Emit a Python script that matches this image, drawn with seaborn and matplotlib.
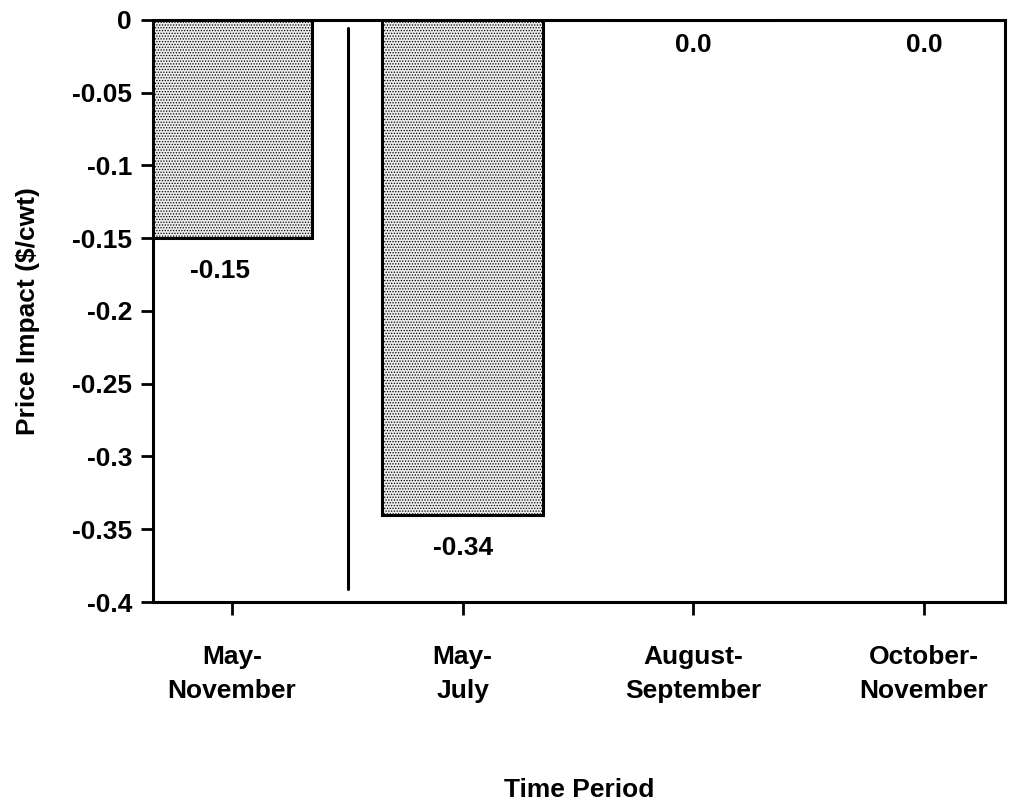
import matplotlib
matplotlib.use("Agg")
import matplotlib.pyplot as plt
import seaborn as sns
import pandas as pd

periods = ["May-\nNovember", "May-\nJuly", "August-\nSeptember", "October-\nNovember"]
impact = [-0.15, -0.34, 0.0, 0.0]
value_labels = ["-0.15", "-0.34", "0.0", "0.0"]
y_ticks = [0, -0.05, -0.1, -0.15, -0.2, -0.25, -0.3, -0.35, -0.4]
y_ticklabels = ["0", "-0.05", "-0.1", "-0.15", "-0.2", "-0.25", "-0.3", "-0.35", "-0.4"]

sns.set_style("ticks")
plt.rcParams["font.family"] = ["Liberation Sans", "DejaVu Sans"]
plt.rcParams["font.weight"] = "bold"
plt.rcParams["hatch.color"] = "#8a8a8a"
plt.rcParams["hatch.linewidth"] = 0.6
for k in ["text.color", "axes.labelcolor", "xtick.color", "ytick.color", "axes.edgecolor"]:
    plt.rcParams[k] = "black"

FS = 19

df = pd.DataFrame({"period": periods, "impact": impact})

fig = plt.figure(figsize=(10.19, 8), dpi=100)
ax = fig.add_axes([0.1501, 0.2475, 0.836, 0.7275])

sns.barplot(data=df, x="period", y="impact", color="#ececec", width=0.695,
            edgecolor="black", linewidth=2.2, ax=ax)
for p in ax.patches:
    p.set_hatch("......")

ax.set_ylim(-0.4, 0)
ax.set_xlim(-0.342, 3.35)
ax.set_yticks(y_ticks)
ax.set_yticklabels(y_ticklabels, fontsize=FS, fontweight="bold")
ax.set_xticks(range(len(periods)))
ax.set_xticklabels(periods, fontsize=FS, fontweight="bold", linespacing=1.5)
ax.tick_params(axis="both", width=2, length=9, direction="out")
ax.tick_params(axis="x", pad=22)
ax.tick_params(axis="y", pad=6)
for s in ax.spines.values():
    s.set_linewidth(2.2)
    s.set_visible(True)

# separator between the whole season and its sub-periods
ax.plot([0.502, 0.502], [-0.0055, -0.391], color="black", lw=2.2, solid_capstyle="round")

label_dx = [-0.05, 0.0, 0.0, 0.0]
for i, (v, lab) in enumerate(zip(impact, value_labels)):
    if v < 0:
        ax.text(i + label_dx[i], v - 0.0145, lab, ha="center", va="top", fontsize=FS, fontweight="bold")
    else:
        ax.text(i, v - 0.009, lab, ha="center", va="top", fontsize=FS, fontweight="bold")

ax.set_xlabel("Time Period", fontsize=FS, fontweight="bold", labelpad=54)
ax.set_ylabel("Price Impact ($/cwt)", fontsize=FS, fontweight="bold", labelpad=23)

fig.savefig("out.png", dpi=100)
